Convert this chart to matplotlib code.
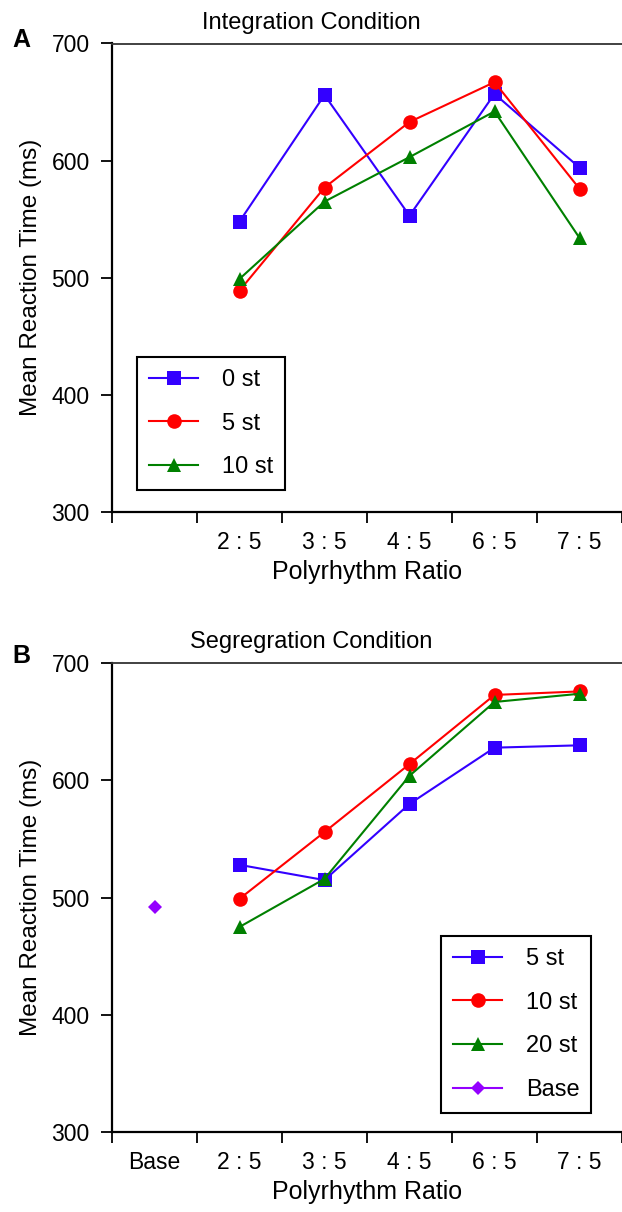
import matplotlib
matplotlib.use("Agg")
import matplotlib.pyplot as plt

plt.rcParams["font.family"] = ["Liberation Sans", "DejaVu Sans"]

# categories on the x axis (Base only used in panel B)
categories = ["Base", "2 : 5", "3 : 5", "4 : 5", "6 : 5", "7 : 5"]

# panel A - integration condition (ms), ratios 2:5 .. 7:5
int_0st = [548, 656, 553, 657, 594]
int_5st = [489, 577, 633, 667, 576]
int_10st = [499, 565, 603, 642, 534]

# panel B - segregation condition (ms)
seg_5st = [528, 515, 580, 628, 630]
seg_10st = [499, 556, 614, 673, 676]
seg_20st = [475, 516, 604, 667, 674]
base_rt = [492]

BLUE = "#3300ff"
RED = "#ff0000"
GREEN = "#008000"
PURPLE = "#9400ff"

fig = plt.figure(figsize=(6.22, 12.12), dpi=100)
W, H = 622, 1212
axA = fig.add_axes([112 / W, 1 - 512 / H, 510 / W, (512 - 43.5) / H])
axB = fig.add_axes([112 / W, 1 - 1132 / H, 510 / W, (1132 - 663.3) / H])

xr = list(range(1, 6))
kw = dict(lw=1.5, ms=10.5, markeredgewidth=0)

axA.plot(xr, int_0st, color=BLUE, marker="s", label="0 st", **kw)
axA.plot(xr, int_5st, color=RED, marker="o", label="5 st", **kw)
axA.plot(xr, int_10st, color=GREEN, marker="^", label="10 st", **kw)

axB.plot(xr, seg_5st, color=BLUE, marker="s", label="5 st", **kw)
axB.plot(xr, seg_10st, color=RED, marker="o", label="10 st", **kw)
axB.plot(xr, seg_20st, color=GREEN, marker="^", label="20 st", **kw)
axB.plot([0], base_rt, color=PURPLE, marker="D", lw=1.5, ms=7.5,
         markeredgewidth=0, label="Base")

for ax, show_base in [(axA, False), (axB, True)]:
    ax.set_xlim(-0.5, 5.5)
    ax.set_ylim(300, 700)
    ax.set_yticks([300, 400, 500, 600, 700])
    labels = list(categories)
    if not show_base:
        labels[0] = ""
    ax.set_xticks(range(6))
    ax.set_xticklabels(labels)
    ax.set_xticks([i - 0.5 for i in range(7)], minor=True)
    ax.tick_params(axis="x", which="major", length=0, pad=14, labelsize=16.5)
    ax.tick_params(axis="x", which="minor", length=8, width=1.3, direction="out")
    ax.tick_params(axis="y", length=8, width=1.3, direction="out", pad=8,
                   labelsize=16.5)
    ax.spines["right"].set_visible(False)
    ax.spines["left"].set_linewidth(1.6)
    ax.spines["bottom"].set_linewidth(1.6)
    ax.spines["top"].set_linewidth(1.3)
    ax.spines["top"].set_color("#333333")
    ax.set_xlabel("Polyrhythm Ratio", fontsize=18, labelpad=4)
    ax.set_ylabel("Mean Reaction Time (ms)", fontsize=17.5, labelpad=7)

fig.text(0.5, 1 - 23 / H, "Integration Condition", ha="center", va="center",
         fontsize=17)
fig.text(0.5, 1 - 642 / H, "Segregration Condition", ha="center", va="center",
         fontsize=17)
fig.text(21 / W, 1 - 40 / H, "A", ha="center", va="center", fontsize=18,
         fontweight="bold")
fig.text(21 / W, 1 - 656 / H, "B", ha="center", va="center", fontsize=18,
         fontweight="bold")

leg_kw = dict(loc="upper left", fontsize=17, frameon=True, fancybox=False,
              edgecolor="black", framealpha=1, borderaxespad=0,
              handlelength=2.1, handletextpad=1.0, labelspacing=0.92,
              borderpad=0.5, numpoints=1)
legA = axA.legend(bbox_to_anchor=(137 / W, 1 - 357 / H),
                  bbox_transform=fig.transFigure, **leg_kw)
legB = axB.legend(bbox_to_anchor=(441 / W, 1 - 936 / H),
                  bbox_transform=fig.transFigure, **leg_kw)
for leg in (legA, legB):
    leg.get_frame().set_linewidth(1.5)

fig.savefig("out.png", dpi=100)
